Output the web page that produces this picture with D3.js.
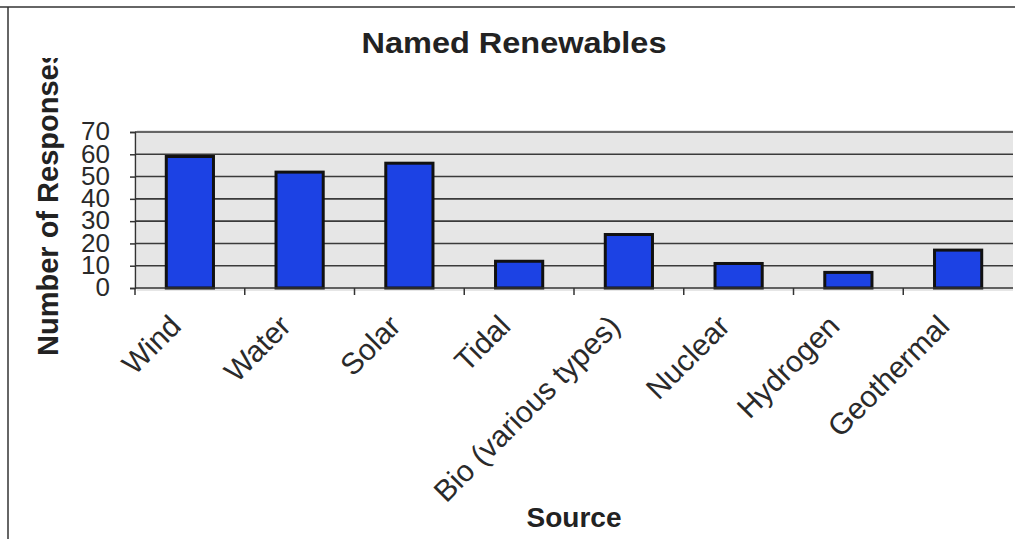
<!DOCTYPE html>
<html>
<head>
<meta charset="utf-8">
<script src="https://cdn.jsdelivr.net/npm/d3@7/dist/d3.min.js"></script>
<style>
  html, body { margin: 0; padding: 0; background: #fff; }
  svg { display: block; font-family: "Liberation Sans", Arial, sans-serif; }
</style>
</head>
<body>
<svg id="chart" width="1015" height="539"></svg>
<script>
// Survey answers: renewable energy sources people could name
const categories = ["Wind", "Water", "Solar", "Tidal", "Bio (various types)", "Nuclear", "Hydrogen", "Geothermal"];
const responses  = [59, 52, 56, 12, 24, 11, 7, 17];
const yTicks     = [0, 10, 20, 30, 40, 50, 60, 70];
const chartTitle = "Named Renewables";
const xTitle     = "Source";
const yTitle     = "Number of Responses";

const svg = d3.select("#chart");
const plot = { left: 135, right: 1013, top: 132, bottom: 288 };

const x = d3.scaleBand().domain(categories).range([plot.left, plot.right]).padding(0);
const y = d3.scaleLinear().domain([0, 70]).range([plot.bottom, plot.top]);
const barW = x.bandwidth() * 0.43;

// outer frame (top and left edges)
svg.append("line").attr("x1", 0).attr("x2", 1015).attr("y1", 7).attr("y2", 7)
  .attr("stroke", "#333").attr("stroke-width", 1.5);
svg.append("line").attr("x1", 8).attr("x2", 8).attr("y1", 7).attr("y2", 539)
  .attr("stroke", "#333").attr("stroke-width", 1.5);

// plot background
svg.append("rect")
  .attr("x", plot.left + 2).attr("y", plot.top - 2)
  .attr("width", plot.right - plot.left - 2).attr("height", plot.bottom - plot.top + 5)
  .attr("fill", "#e6e6e6");

// horizontal gridlines
svg.append("g")
  .selectAll("line")
  .data(yTicks.filter(d => d > 0))
  .join("line")
  .attr("x1", plot.left).attr("x2", plot.right)
  .attr("y1", d => y(d)).attr("y2", d => y(d))
  .attr("stroke", "#3a3a3a").attr("stroke-width", 1.6);

// bars
svg.append("g")
  .selectAll("rect")
  .data(categories.map((c, i) => ({ c, v: responses[i] })))
  .join("rect")
  .attr("x", d => x(d.c) + (x.bandwidth() - barW) / 2)
  .attr("y", d => y(d.v))
  .attr("width", barW)
  .attr("height", d => y(0) - y(d.v))
  .attr("fill", "#1c42e4")
  .attr("stroke", "#111")
  .attr("stroke-width", 3);

// y axis
const yAxis = svg.append("g")
  .attr("transform", `translate(${plot.left},0)`)
  .call(d3.axisLeft(y).tickValues(yTicks).tickSize(5).tickPadding(20));
yAxis.select(".domain").attr("stroke", "#333").attr("stroke-width", 1.5);
yAxis.selectAll(".tick line").attr("stroke", "#333").attr("stroke-width", 1.5);
yAxis.selectAll(".tick text")
  .attr("font-size", 26).attr("fill", "#2a2a2a").attr("font-family", "Liberation Sans, Arial, sans-serif")
  .attr("dy", "0.3em");

// x axis with ticks at category boundaries
const xAxis = svg.append("g").attr("transform", `translate(0,${plot.bottom})`);
xAxis.append("line").attr("x1", plot.left).attr("x2", plot.right)
  .attr("stroke", "#333").attr("stroke-width", 1.5);
xAxis.selectAll("line.tk")
  .data(categories)
  .join("line").attr("class", "tk")
  .attr("x1", d => x(d)).attr("x2", d => x(d))
  .attr("y1", 0).attr("y2", 7)
  .attr("stroke", "#333").attr("stroke-width", 1.5);

// rotated category labels
svg.append("g")
  .selectAll("text")
  .data(categories)
  .join("text")
  .attr("transform", d => `translate(${x(d) + x.bandwidth() / 2 - 7},${plot.bottom + 40}) rotate(-45)`)
  .attr("text-anchor", "end")
  .attr("font-size", 30)
  .attr("fill", "#2a2a2a")
  .text(d => d);

// titles
svg.append("text")
  .attr("x", 514).attr("y", 53)
  .attr("text-anchor", "middle")
  .attr("font-size", 29).attr("font-weight", "bold").attr("fill", "#222")
  .attr("textLength", 305).attr("lengthAdjust", "spacingAndGlyphs")
  .text(chartTitle);

svg.append("text")
  .attr("x", (plot.left + plot.right) / 2).attr("y", 527)
  .attr("text-anchor", "middle")
  .attr("font-size", 28).attr("font-weight", "bold").attr("fill", "#222")
  .text(xTitle);

// y title, cut off at the top edge of the chart area
svg.append("clipPath").attr("id", "yclip")
  .append("rect").attr("x", 0).attr("y", 58).attr("width", 130).attr("height", 481);

svg.append("g")
  .attr("clip-path", "url(#yclip)")
  .append("text")
  .attr("transform", "translate(58,356) rotate(-90)")
  .attr("text-anchor", "start")
  .attr("font-size", 29).attr("font-weight", "bold").attr("fill", "#222")
  .text(yTitle);
</script>
</body>
</html>
